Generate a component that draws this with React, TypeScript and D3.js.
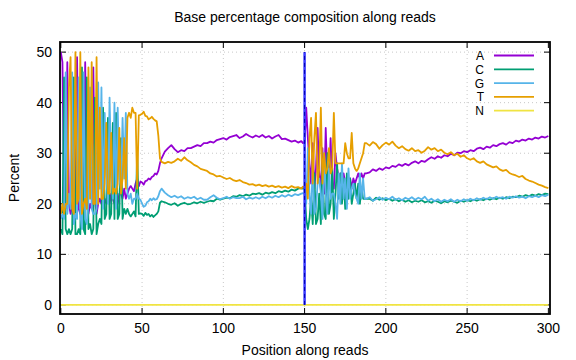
import React from 'react';
import * as d3 from 'd3';

// read positions (dense where the curves oscillate)
const positions = [
  0, 1, 2, 3, 4, 5, 6, 7, 8, 9, 10, 11, 12, 13, 14, 15, 16, 17, 18, 19,
  20, 21, 22, 23, 24, 25, 26, 27, 28, 29, 30, 31, 32, 33, 34, 35, 36, 37, 38, 39,
  40, 41, 42, 43, 44, 45, 46, 47, 48, 49, 50, 51, 52, 53, 54, 55, 56, 57, 58, 59,
  60, 61, 62,
  64, 66, 68, 70, 72, 74, 76, 78, 80, 82, 84, 86, 88, 90, 92, 94, 96, 98, 100, 102,
  104, 106, 108, 110, 112, 114, 116, 118, 120, 122, 124, 126, 128, 130, 132, 134, 136, 138, 140, 142,
  144, 146, 148, 149, 150,
  151, 152, 153, 154, 155, 156, 157, 158, 159, 160, 161, 162, 163, 164, 165, 166, 167, 168, 169, 170,
  171, 172, 173, 174, 175, 176, 177, 178, 179, 180, 181, 182, 183, 184, 185, 186, 187, 188,
  190, 192, 194, 196, 198, 200, 202, 204, 206, 208, 210, 212, 214, 216, 218, 220, 222, 224, 226, 228,
  230, 232, 234, 236, 238, 240, 242, 244, 246, 248, 250, 252, 254, 256, 258, 260, 262, 264, 266, 268,
  270, 272, 274, 276, 278, 280, 282, 284, 286, 288, 290, 292, 294, 296, 298, 300,
];

const baseA = [
  50, 48, 20, 19, 48, 20, 18, 20, 21, 18, 49, 19, 18, 20, 19, 48, 20, 18, 20, 19,
  47, 21, 18, 20, 21, 20, 21, 21, 20, 21, 20, 22, 21, 20, 21, 20, 22, 22, 21, 23,
  21, 22, 23, 23.5, 23, 22.5, 24, 25, 23.5, 24.4, 24.2, 23.8, 24.5, 24.6, 25, 24.8, 25.3, 25.5, 26, 25.8,
  26.5, 28, 29,
  30.3, 31, 31.6, 30.8, 30.2, 30.6, 30.4, 31, 31, 31.3, 31.6, 31.4, 32, 32, 32.3, 32.1, 32.6, 32.8, 33, 32.7,
  33.2, 33.4, 33.6, 33, 33.3, 33.8, 33.4, 33.1, 33.5, 33.2, 33.6, 33.1, 33.4, 32.9, 33.3, 33.6, 32.8, 32.9, 32.6, 32.3,
  32.5, 32.1, 32.4, 32, 32.2,
  39, 33, 28, 24, 32, 23, 27, 35, 26, 23, 31, 22, 35, 25, 24, 33, 24, 23, 30, 27,
  25, 26, 24, 26, 24, 25, 23, 25, 23, 25, 24, 25, 26, 25, 26, 25, 26, 26,
  26.2, 26.8, 26.5, 27, 26.7, 27.2, 27, 27.5, 27.3, 27.8, 27.5, 27.9, 27.6, 28.1, 28.4, 28, 28.5, 28.3, 28.8, 29.2,
  28.9, 29.4, 29.1, 29.6, 29.4, 29.9, 29.6, 30.1, 30, 30.4, 30.2, 30.6, 30.4, 30.9, 31.1, 30.8, 31.3, 31.1, 31.6, 31.4,
  31.8, 32, 31.7, 32.2, 32, 32.5, 32.3, 32.7, 32.5, 32.9, 32.7, 33.1, 32.9, 33.3, 33.1, 33.4,
];

const baseC = [
  15, 14, 45, 15, 14, 15, 14, 15, 45, 14, 14, 15, 14, 47, 15, 14, 45, 15, 16, 14,
  15, 41, 14, 16, 17, 16, 39, 17, 18, 37, 17, 18, 36, 17, 38, 17, 18, 33, 17, 19,
  18, 19, 18, 17.5, 18, 18.5, 17.5, 30, 18, 18.1, 18, 17.6, 18.2, 17.8, 18, 17.5, 17.8, 17.4, 17.7, 18,
  18.5, 20.2, 20.5,
  20.3, 20, 19.8, 20.1, 19.6, 20, 20.2, 19.9, 20, 20.3, 20.1, 20.4, 20.2, 20.4, 20.6, 20.5, 21, 20.8, 21, 21.2,
  21.1, 21.5, 21.4, 21.7, 21.5, 21.8, 21.6, 22, 21.9, 22.1, 21.8, 22.2, 22, 22.3, 22.1, 22.5, 22.3, 22.6, 22.4, 22.8,
  22.6, 23, 23.1, 23, 23,
  17, 15, 17, 21, 16, 26, 16, 17, 22, 16, 28, 18, 17, 30, 18, 20, 27, 17, 22, 28,
  21, 26, 20, 25, 19, 26, 21, 25, 20, 22, 24, 21, 24, 20, 23, 21, 21, 21,
  21, 20.6, 21.2, 20.8, 21.1, 20.7, 21, 20.6, 20.9, 20.5, 20.8, 20.4, 20.7, 20.3, 20.6, 20.4, 20.7, 20.3, 20.5, 20.2,
  20.6, 20.4, 20.1, 20.5, 20.3, 20.6, 20.4, 20.2, 20.6, 20.4, 20.7, 20.5, 20.8, 20.6, 20.9, 20.7, 21, 20.8, 21.1, 20.9,
  21.2, 21, 21.3, 21.1, 21.4, 21.3, 21.6, 21.4, 21.7, 21.5, 21.8, 21.6, 21.9, 21.7, 22, 21.9,
];

const baseG = [
  17, 18, 17, 46, 18, 22, 19, 46, 16, 18, 17, 45, 18, 15, 46, 17, 16, 20, 43, 19,
  18, 18, 19, 44, 23, 43, 19, 38, 26, 20, 41, 26, 21, 40, 19, 39, 25, 23, 37, 25,
  38, 22, 21, 22, 20, 21, 21, 22, 21, 20.8, 20, 19.4, 19.6, 20.3, 20.5, 21, 20.7, 21.1, 20.8, 20.9,
  21.5, 22.5, 23,
  22.2, 21.7, 21.3, 21.6, 21.2, 21.5, 21, 21.3, 21.1, 21.4, 20.9, 21.2, 20.8, 20.8, 21.3, 21.7, 21.2, 20.9, 21.1, 21.4,
  21, 21.3, 21.1, 21.1, 21.4, 20.9, 21.2, 21, 21.3, 21, 21.4, 21.1, 21.5, 21.2, 21.6, 21.3, 21.7, 21.4, 21.8, 21.5,
  21.9, 21.7, 22, 22.1, 22,
  20, 31, 22, 18, 28, 18, 19, 24, 25, 22, 17, 30, 22, 18, 27, 21, 22, 22, 20, 17,
  26, 20, 28, 21, 25, 19, 27, 21, 23, 24, 22, 21, 20, 26, 21, 25, 21, 21,
  21.3, 20.6, 20.9, 21.3, 20.8, 21.2, 20.9, 21.4, 20.8, 21.1, 20.7, 21.2, 20.9, 21.3, 20.8, 21.2, 20.9, 21.4, 20.6, 21,
  20.5, 20.9, 20.4, 20.8, 20.5, 20.9, 20.4, 20.8, 20.5, 20.9, 20.6, 21, 20.7, 21.1, 20.8, 21.2, 20.9, 21.3, 21, 21.4,
  21.1, 21.3, 21, 21.4, 21.2, 21.5, 21.2, 21.4, 21.1, 21.5, 21.3, 21.6, 21.3, 21.7, 21.5, 21.8,
];

const baseT = [
  18, 20, 18, 20, 20, 43, 49, 19, 18, 50, 20, 21, 50, 18, 20, 21, 19, 47, 21, 48,
  20, 20, 49, 20, 39, 21, 21, 24, 36, 22, 22, 34, 22, 23, 22, 24, 35, 22, 25, 33,
  23, 37, 38, 37, 39, 38, 38, 23, 37.5, 37.6, 37.8, 38.2, 37.4, 37.3, 36.7, 36.9, 37.2, 36.8, 36.5, 36.3,
  33.5, 29, 28.3,
  28, 28.3, 28.1, 28.4, 28.9, 28.5, 29.2, 28.6, 28.2, 27.7, 27.4, 26.9, 26.7, 26.5, 26, 25.8, 25.4, 25.5, 25.2, 24.9,
  25.1, 24.7, 24.5, 24.7, 24.3, 24.1, 23.8, 23.9, 23.6, 23.8, 23.5, 23.7, 23.4, 23.6, 23.3, 23.5, 23.2, 23.4, 23.1, 23.5,
  23.2, 23.3, 23, 23.4, 23.2,
  24, 21, 33, 37, 24, 33, 38, 24, 27, 39, 24, 30, 26, 27, 31, 26, 27, 38, 28, 28,
  28, 28, 28, 28, 32, 30, 29, 29, 34, 28, 27, 26.5, 27, 28, 29, 30, 32, 32,
  31.5, 32.2, 31.8, 30.9, 31.6, 32.1, 31.7, 32.3, 31.5, 31, 31.4, 30.8, 30.5, 31, 30.4, 30.6, 30.1, 30.5, 31.2, 30.7,
  31, 30.4, 30.7, 30.1, 29.8, 30.2, 29.6, 29.9, 29.3, 29.6, 29, 28.7, 29, 28.4, 28.1, 28.4, 27.8, 27.5, 27.2, 27.4,
  26.8, 26.5, 26.7, 26.1, 25.8, 25.6, 25.3, 25.5, 24.9, 24.6, 24.4, 24.1, 23.8, 23.6, 23.3, 23.1,
];

// N stays at zero over the whole read
const nPositions = [0, 300];
const baseN = [0, 0];

const seriesNames = ['A', 'C', 'G', 'T', 'N'];
const seriesColors = ['#9400d3', '#009e73', '#56b4e9', '#e69f00', '#f0e442'];
const xTicks = [0, 50, 100, 150, 200, 250, 300];
const yTicks = [0, 10, 20, 30, 40, 50];
const readBoundary = 150;

const FONT = '"Liberation Sans", Arial, sans-serif';

export default function App() {
  const width = 576;
  const height = 360;
  const plot = { left: 60, right: 550, top: 42, bottom: 314 };

  const x = d3.scaleLinear().domain([-0.5, 301]).range([plot.left, plot.right]);
  const y = d3.scaleLinear().domain([-1.8, 52]).range([plot.bottom, plot.top]);

  const line = d3.line<[number, number]>()
    .x(d => x(d[0]))
    .y(d => y(d[1]));

  const series = [
    positions.map((p, i) => [p, baseA[i]] as [number, number]),
    positions.map((p, i) => [p, baseC[i]] as [number, number]),
    positions.map((p, i) => [p, baseG[i]] as [number, number]),
    positions.map((p, i) => [p, baseT[i]] as [number, number]),
    nPositions.map((p, i) => [p, baseN[i]] as [number, number]),
  ];

  const tickLen = 6;
  const fs = 14;

  return (
    <svg width={width} height={height} style={{ position: 'absolute', left: 0, top: 0, background: '#fff' }}
      fontFamily={FONT}>
      <rect x={0} y={0} width={width} height={height} fill="#fff" />

      {/* grid */}
      {xTicks.filter(t => t > 0 && t < 300).map(t => (
        <line key={'gx' + t} x1={x(t)} x2={x(t)} y1={plot.top} y2={plot.bottom}
          stroke="#c8c8c8" strokeWidth={1} strokeDasharray="1,3" />
      ))}
      {yTicks.map(t => (
        <line key={'gy' + t} x1={plot.left} x2={plot.right} y1={y(t)} y2={y(t)}
          stroke="#c8c8c8" strokeWidth={1} strokeDasharray="1,3" />
      ))}

      {/* ticks, mirrored */}
      {xTicks.map(t => (
        <g key={'tx' + t}>
          <line x1={x(t)} x2={x(t)} y1={plot.bottom} y2={plot.bottom - tickLen} stroke="#000" />
          <line x1={x(t)} x2={x(t)} y1={plot.top} y2={plot.top + tickLen} stroke="#000" />
          <text x={x(t)} y={plot.bottom + 19} textAnchor="middle" fontSize={fs} fill="#000">{t}</text>
        </g>
      ))}
      {yTicks.map(t => (
        <g key={'ty' + t}>
          <line x1={plot.left} x2={plot.left + tickLen} y1={y(t)} y2={y(t)} stroke="#000" />
          <line x1={plot.right} x2={plot.right - tickLen} y1={y(t)} y2={y(t)} stroke="#000" />
          <text x={plot.left - 8} y={y(t) + 5} textAnchor="end" fontSize={fs} fill="#000">{t}</text>
        </g>
      ))}

      {/* series */}
      {series.map((s, i) => (
        <path key={seriesNames[i]} d={line(s) || ''} fill="none" stroke={seriesColors[i]}
          strokeWidth={1.8} strokeLinejoin="round" />
      ))}

      {/* boundary between read 1 and read 2 */}
      <line x1={x(readBoundary)} x2={x(readBoundary)} y1={y(0)} y2={y(50)} stroke="#3a3aff" strokeWidth={2.5} />
      <line x1={x(readBoundary)} x2={x(readBoundary)} y1={y(0)} y2={y(50)} stroke="#0000b0"
        strokeWidth={1} strokeDasharray="4,3" />

      {/* frame */}
      <rect x={plot.left} y={plot.top} width={plot.right - plot.left} height={plot.bottom - plot.top}
        fill="none" stroke="#000" strokeWidth={1.8} />

      {/* legend */}
      {seriesNames.map((n, i) => {
        const ly = 55.5 + i * 13.8;
        return (
          <g key={'lg' + n}>
            <text x={484} y={ly + 4.5} textAnchor="end" fontSize={12} fill="#000">{n}</text>
            <line x1={494} x2={534} y1={ly} y2={ly} stroke={seriesColors[i]} strokeWidth={1.8} />
          </g>
        );
      })}

      {/* titles */}
      <text x={(plot.left + plot.right) / 2} y={22} textAnchor="middle" fontSize={fs} fill="#000">
        Base percentage composition along reads
      </text>
      <text x={(plot.left + plot.right) / 2} y={355} textAnchor="middle" fontSize={fs} fill="#000">
        Position along reads
      </text>
      <text transform={`translate(19,${(plot.top + plot.bottom) / 2}) rotate(-90)`} textAnchor="middle"
        fontSize={fs} fill="#000">Percent</text>
    </svg>
  );
}
